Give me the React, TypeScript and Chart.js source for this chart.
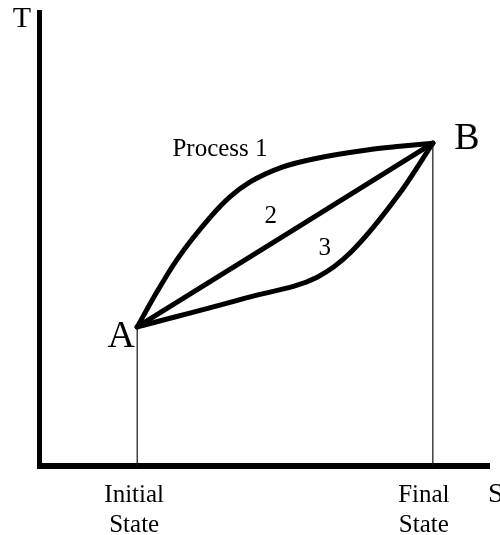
import React, { useEffect, useRef } from "react";
import { Chart, registerables } from "chart.js";

Chart.register(...registerables);

// ---- data (entropy S on x, temperature T on y, arbitrary units 0..100) ----
const stateNames = ["A", "B"];
const stateS = [21.6, 87.3];
const stateT = [30.5, 70.8];
const stateCaptions = [["Initial", "State"], ["Final", "State"]];

const process1S = [21.6, 26.0, 30.4, 37.8, 42.2, 46.7, 54.0, 61.6, 72.7, 80.0, 87.3];
const process1T = [30.5, 38.2, 45.2, 54.5, 59.0, 62.3, 65.6, 67.5, 69.3, 70.1, 70.8];

const process3S = [21.6, 46.7, 61.6, 68.9, 80.0, 87.3];
const process3T = [30.5, 37.1, 41.4, 46.7, 59.9, 70.8];

const processLabels = ["Process 1", "2", "3"];
const processLabelS = [40.0, 51.3, 63.3];
const processLabelT = [69.5, 54.8, 47.8];

const axisTitles = ["T", "S"];

const toPts = (xs: number[], ys: number[]) => xs.map((x, i) => ({ x, y: ys[i] }));

const SERIF = '"Liberation Serif", "Times New Roman", serif';

const decorPlugin = {
  id: "decor",
  beforeDatasetsDraw(chart: any) {
    const { ctx, chartArea } = chart;
    ctx.save();
    ctx.strokeStyle = "#000";
    ctx.lineCap = "butt";
    // y axis
    ctx.lineWidth = 5;
    ctx.beginPath();
    ctx.moveTo(chartArea.left - 0.5, chartArea.top);
    ctx.lineTo(chartArea.left - 0.5, chartArea.bottom + 3);
    ctx.stroke();
    // x axis
    ctx.lineWidth = 6;
    ctx.beginPath();
    ctx.moveTo(chartArea.left - 2, chartArea.bottom);
    ctx.lineTo(chartArea.right, chartArea.bottom);
    ctx.stroke();
    ctx.restore();
  },
  afterDatasetsDraw(chart: any) {
    const { ctx, chartArea, scales } = chart;
    const xs = scales.x;
    const ys = scales.y;
    ctx.save();
    ctx.fillStyle = "#000";
    ctx.textAlign = "center";
    ctx.textBaseline = "middle";

    // axis titles
    ctx.font = `30px ${SERIF}`;
    ctx.fillText(axisTitles[0], chartArea.left - 18, chartArea.top + 9);
    ctx.font = `28px ${SERIF}`;
    ctx.textAlign = "left";
    ctx.textBaseline = "alphabetic";
    ctx.fillText(axisTitles[1], chartArea.right - 2, chartArea.bottom + 36);

    // state points labels
    ctx.textAlign = "center";
    ctx.textBaseline = "middle";
    ctx.font = `38px ${SERIF}`;
    const px0 = xs.getPixelForValue(stateS[0]);
    const py0 = ys.getPixelForValue(stateT[0]);
    ctx.fillText(stateNames[0], px0 - 16, py0 + 10);
    const px1 = xs.getPixelForValue(stateS[1]);
    const py1 = ys.getPixelForValue(stateT[1]);
    ctx.fillText(stateNames[1], px1 + 34, py1 - 4);

    // captions under axis
    ctx.font = `25px ${SERIF}`;
    ctx.textBaseline = "alphabetic";
    const capOffsets = [-3, -9];
    stateS.forEach((s, i) => {
      const px = xs.getPixelForValue(s) + capOffsets[i];
      ctx.fillText(stateCaptions[i][0], px, chartArea.bottom + 36);
      ctx.fillText(stateCaptions[i][1], px, chartArea.bottom + 66);
    });

    // process labels
    ctx.textBaseline = "middle";
    ctx.font = `25px ${SERIF}`;
    processLabels.forEach((t, i) => {
      ctx.fillText(t, xs.getPixelForValue(processLabelS[i]), ys.getPixelForValue(processLabelT[i]));
    });
    ctx.restore();
  },
};

export default function App() {
  const ref = useRef<HTMLCanvasElement | null>(null);
  useEffect(() => {
    if (!ref.current) return;
    const curve = (xs: number[], ys: number[]) => ({
      data: toPts(xs, ys),
      showLine: true,
      borderColor: "#000",
      borderWidth: 5,
      pointRadius: 0,
      cubicInterpolationMode: "monotone" as const,
      borderCapStyle: "round" as const,
      borderJoinStyle: "round" as const,
    });
    const drop = (i: number) => ({
      data: [
        { x: stateS[i], y: 0 },
        { x: stateS[i], y: stateT[i] },
      ],
      showLine: true,
      borderColor: "#111",
      borderWidth: 1.2,
      pointRadius: 0,
    });
    const chart = new Chart(ref.current, {
      type: "scatter",
      data: {
        datasets: [
          drop(0),
          drop(1),
          curve(process1S, process1T),
          curve([stateS[0], stateS[1]], [stateT[0], stateT[1]]),
          curve(process3S, process3T),
        ],
      },
      options: {
        animation: false,
        responsive: true,
        maintainAspectRatio: false,
        layout: { padding: { left: 40, right: 10, top: 10, bottom: 69 } },
        plugins: { legend: { display: false }, tooltip: { enabled: false } },
        scales: {
          x: { type: "linear", min: 0, max: 100, display: false },
          y: { type: "linear", min: 0, max: 100, display: false },
        },
      },
      plugins: [decorPlugin],
    });
    return () => chart.destroy();
  }, []);
  return (
    <div style={{ position: "fixed", left: 0, top: 0, width: 500, height: 535, background: "#fff" }}>
      <canvas ref={ref} />
    </div>
  );
}
